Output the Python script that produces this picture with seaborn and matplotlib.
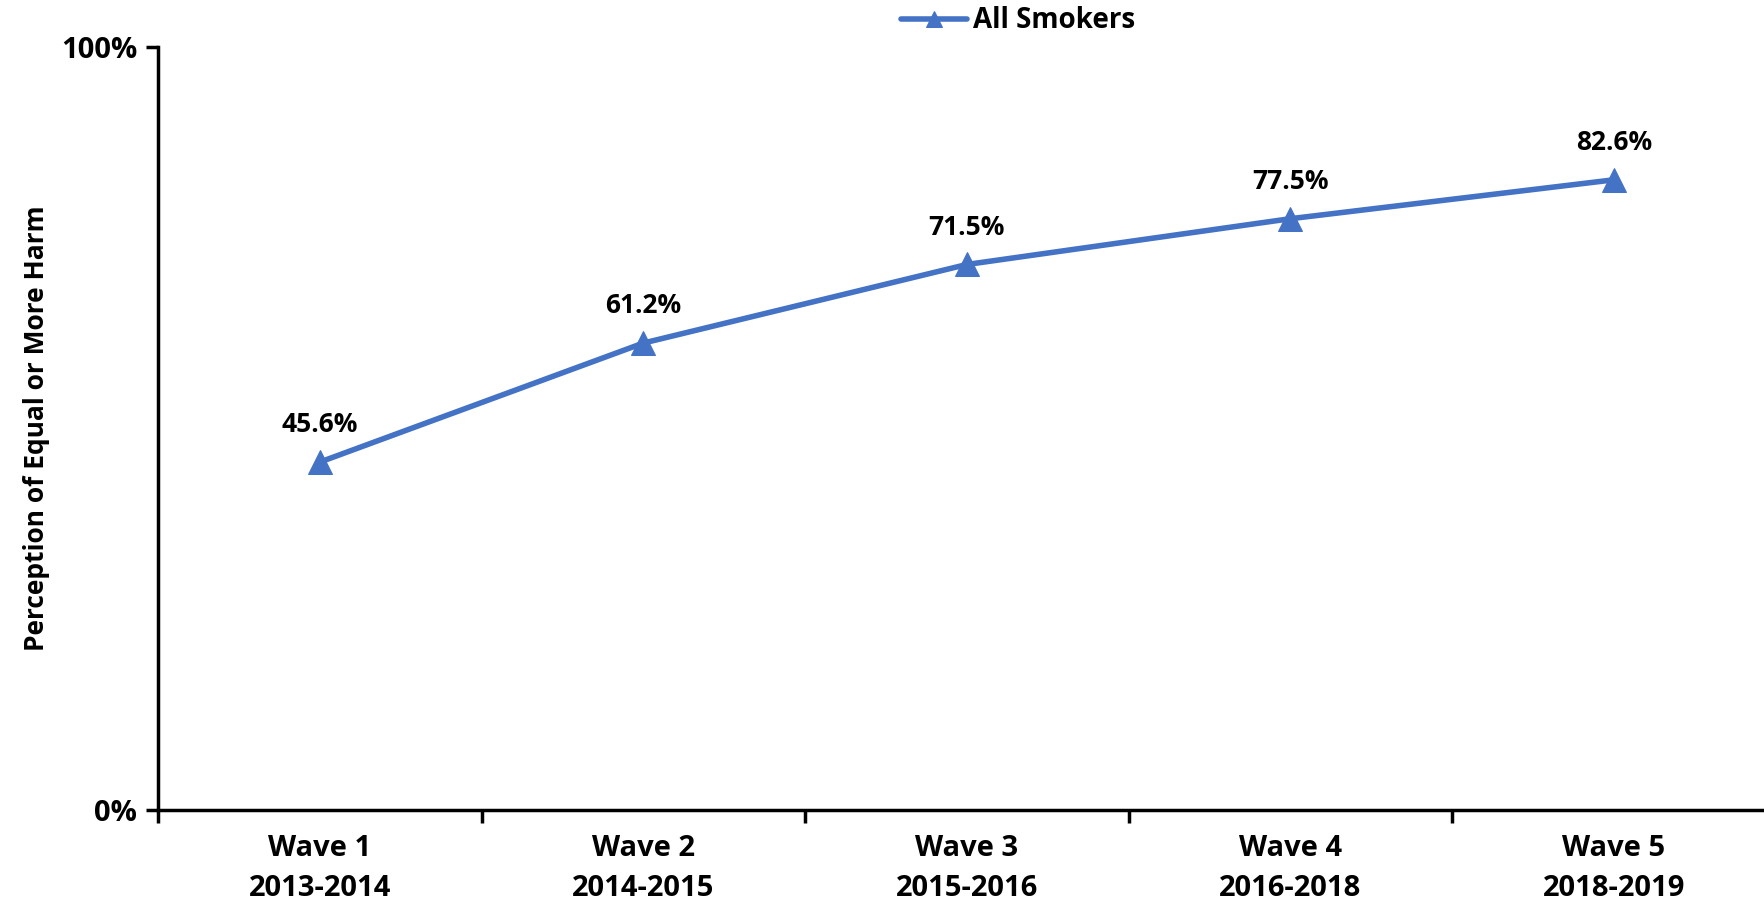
import seaborn as sns
import matplotlib.pyplot as plt
import matplotlib.ticker as mticker
import pandas as pd

# data
waves = ["Wave 1\n2013-2014", "Wave 2\n2014-2015", "Wave 3\n2015-2016",
         "Wave 4\n2016-2018", "Wave 5\n2018-2019"]
all_smokers = [45.6, 61.2, 71.5, 77.5, 82.6]
series_name = "All Smokers"

df = pd.DataFrame({"wave": range(len(waves)), "pct": all_smokers, "group": series_name})

sns.set_style("white")
plt.rcParams['font.family'] = ['Open Sans', 'DejaVu Sans']
plt.rcParams['font.weight'] = 'bold'
plt.rcParams['text.color'] = 'black'
plt.rcParams['xtick.color'] = 'black'
plt.rcParams['ytick.color'] = 'black'
plt.rcParams['axes.labelcolor'] = 'black'

fig = plt.figure(figsize=(17.64, 9.05), dpi=100)
ax = fig.add_axes([0.0896, 0.105, 0.917, 0.843])

blue = '#4472C4'
sns.lineplot(data=df, x="wave", y="pct", hue="group", palette=[blue],
             marker='^', markersize=17, markeredgecolor=blue, linewidth=4,
             ax=ax, legend=True)

# value labels
for i, v in enumerate(all_smokers):
    ax.annotate(f"{v:.1f}%", (i, v), xytext=(0, 17), textcoords='offset points',
                ha='center', va='bottom', fontsize=19, fontweight='bold', color='black')

ax.set_xlim(-0.5, 4.5)
ax.set_ylim(0, 100)
ax.set_yticks([0, 100])
ax.yaxis.set_major_formatter(mticker.FuncFormatter(lambda v, p: f"{v:.0f}%"))
ax.set_xticks(range(len(waves)))
ax.set_xticklabels(waves, linespacing=1.5)
ax.set_xticks([i - 0.5 for i in range(len(waves) + 1)], minor=True)
ax.tick_params(axis='x', which='major', bottom=False, pad=14, labelsize=21)
ax.tick_params(axis='x', which='minor', bottom=True, length=9, width=2.5, direction='out')
ax.tick_params(axis='y', which='major', left=True, length=9, width=2.5, direction='out',
               labelsize=21, pad=6)
for lab in ax.get_xticklabels() + ax.get_yticklabels():
    lab.set_fontweight('bold')

for s in ['top', 'right']:
    ax.spines[s].set_visible(False)
for s in ['left', 'bottom']:
    ax.spines[s].set_linewidth(2.5)
    ax.spines[s].set_color('black')

ax.set_xlabel("")
ax.set_ylabel("Perception of Equal or More Harm", fontsize=19, fontweight='bold', labelpad=8)

leg = ax.legend(loc='center', bbox_to_anchor=(0.577, 0.977), bbox_transform=fig.transFigure,
                frameon=False, fontsize=20, handlelength=2.4, handletextpad=0.2,
                markerscale=0.7)
for t in leg.get_texts():
    t.set_fontweight('bold')
    t.set_color('black')

fig.savefig("out.png", dpi=100)
plt.close()
